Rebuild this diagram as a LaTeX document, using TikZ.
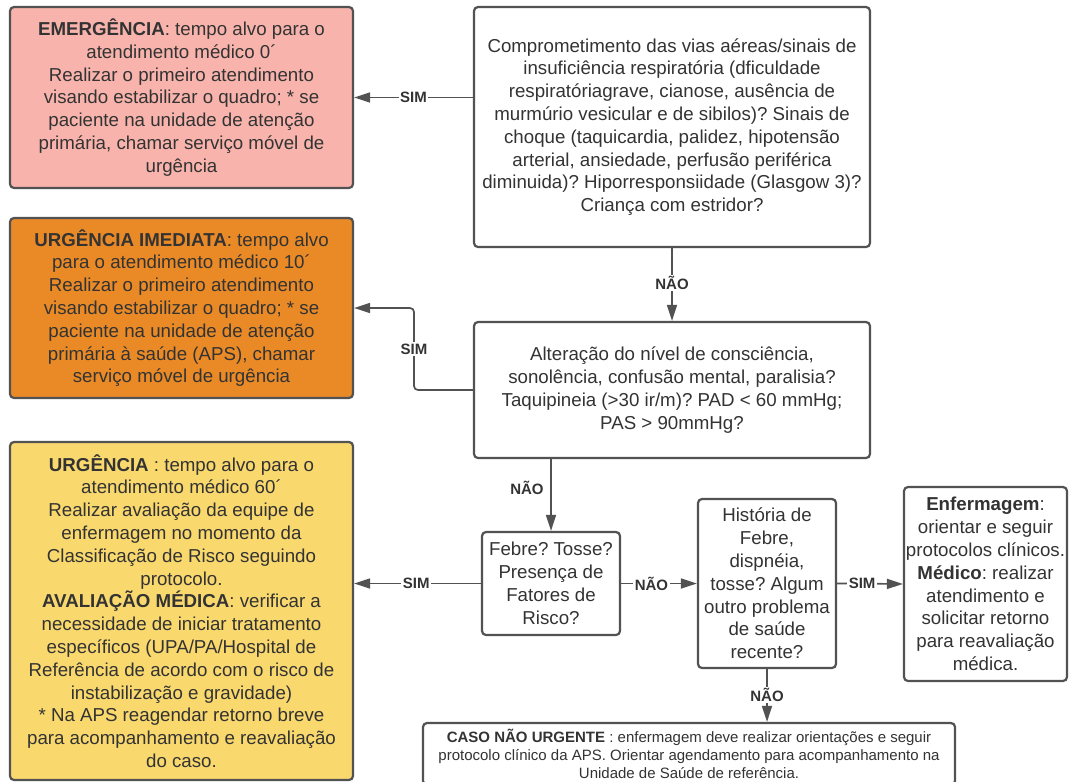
\documentclass[tikz,border=0pt]{standalone}
\usepackage{fontspec}
\setmainfont{Liberation Sans}
\usetikzlibrary{arrows.meta}
\definecolor{edge}{HTML}{525252}
\definecolor{txt}{HTML}{333333}
\definecolor{pinkbox}{HTML}{F8B4AC}
\definecolor{orangebox}{HTML}{EA8A27}
\definecolor{yellowbox}{HTML}{F9D86E}
\frenchspacing
\tikzset{
  box/.style={draw=edge, line width=2.2pt, rounded corners=4pt, inner sep=0pt, align=center,
    text=txt, font=\fontsize{18.7}{22.8}\selectfont\frenchspacing},
  smallbox/.style={box, font=\fontsize{15}{18.3}\selectfont\frenchspacing},
  conn/.style={draw=edge, line width=1.7pt},
  arr/.style={conn, -{Triangle[length=16pt,width=10pt]}},
  lbl/.style={fill=white, inner sep=1.5pt, text=txt, font=\fontsize{15}{16}\selectfont\bfseries},
  lblplain/.style={inner sep=1.5pt, text=txt, font=\fontsize{15}{16}\selectfont\bfseries}
}
\begin{document}
\begin{tikzpicture}[x=1pt,y=-1pt]
\useasboundingbox (0,0) rectangle (1069,782);
\fill[white] (0,0) rectangle (1069,782);
\clip (0,0) rectangle (1069,782);

\node[box, fill=pinkbox, minimum width=343pt, minimum height=181pt] (emer) at (181.5,97.5)
{\textbf{EMERGÊNCIA}: tempo alvo para o\\atendimento médico 0´\\Realizar o primeiro atendimento\\visando estabilizar o quadro; * se\\paciente na unidade de atenção\\primária, chamar serviço móvel de\\urgência};

\node[box, fill=orangebox, minimum width=343pt, minimum height=180pt] (imed) at (181.5,308)
{\textbf{URGÊNCIA IMEDIATA}: tempo alvo\\para o atendimento médico 10´\\Realizar o primeiro atendimento\\visando estabilizar o quadro; * se\\paciente na unidade de atenção\\primária à saúde (APS), chamar\\serviço móvel de urgência};

\node[box, fill=yellowbox, minimum width=343pt, minimum height=338pt] (urg) at (181.5,611)
{\textbf{URGÊNCIA} : tempo alvo para o\\atendimento médico 60´\\Realizar avaliação da equipe de\\enfermagem no momento da\\Classificação de Risco seguindo\\protocolo.\\\textbf{AVALIAÇÃO MÉDICA}: verificar a\\necessidade de iniciar tratamento\\específicos (UPA/PA/Hospital de\\Referência de acordo com o risco de\\instabilização e gravidade)\\* Na APS reagendar retorno breve\\para acompanhamento e reavaliação\\do caso.};

\node[box, fill=white, minimum width=396pt, minimum height=240pt] (q1) at (672,127)
{Comprometimento das vias aéreas/sinais de\\insuficiência respiratória (dficuldade\\respiratóriagrave, cianose, ausência de\\murmúrio vesicular e de sibilos)? Sinais de\\choque (taquicardia, palidez, hipotensão\\arterial, ansiedade, perfusão periférica\\diminuida)? Hiporresponsiidade (Glasgow 3)?\\Criança com estridor?};

\node[box, fill=white, minimum width=396pt, minimum height=136pt] (q2) at (672,390)
{Alteração do nível de consciência,\\sonolência, confusão mental, paralisia?\\Taquipineia (>30 ir/m)? PAD < 60 mmHg;\\PAS > 90mmHg?};

\node[box, fill=white, minimum width=138pt, minimum height=103pt] (febre) at (551,583.5)
{Febre? Tosse?\\Presença de\\Fatores de\\Risco?};

\node[box, fill=white, minimum width=138pt, minimum height=169pt] (hist) at (767,583.5)
{História de\\Febre,\\dispnéia,\\tosse? Algum\\outro problema\\de saúde\\recente?};

\node[box, fill=white, minimum width=163pt, minimum height=194pt] (enf) at (985.5,584)
{\textbf{Enfermagem}:\\orientar e seguir\\protocolos clínicos.\\\textbf{Médico}: realizar\\atendimento e\\solicitar retorno\\para reavaliação\\médica.};

\node[smallbox, fill=white, minimum width=532pt, minimum height=62pt] (caso) at (689,754)
{\textbf{CASO NÃO URGENTE} : enfermagem deve realizar orientações e seguir\\protocolo clínico da APS. Orientar agendamento para acompanhamento na\\Unidade de Saúde de referência.};

% connectors
\draw[arr] (q1.west |- emer.east) -- node[lbl] {SIM} (emer.east);
\draw[arr] (q1.south) -- node[lbl, pos=0.48] {NÃO} (q2.north);
\coordinate (bend) at (414,390);
\draw[arr, rounded corners=4pt] (q2.west) -- (bend) |- node[lbl, pos=0.25] {SIM} (imed.east);
\draw[arr] (febre.north |- q2.south) -- node[lblplain, pos=0.4, left=5pt] {NÃO} (febre.north);
\draw[arr] (febre.west) -- node[lbl, pos=0.51] {SIM} (febre.west -| urg.east);
\draw[arr] (febre.east) -- node[lbl, pos=0.4] {NÃO} (hist.west);
\draw[arr] (hist.east) -- node[lbl, pos=0.38] {SIM} (enf.west);
\draw[arr] (hist.south) -- node[lbl, pos=0.49] {NÃO} (hist.south |- caso.north);
\end{tikzpicture}
\end{document}
